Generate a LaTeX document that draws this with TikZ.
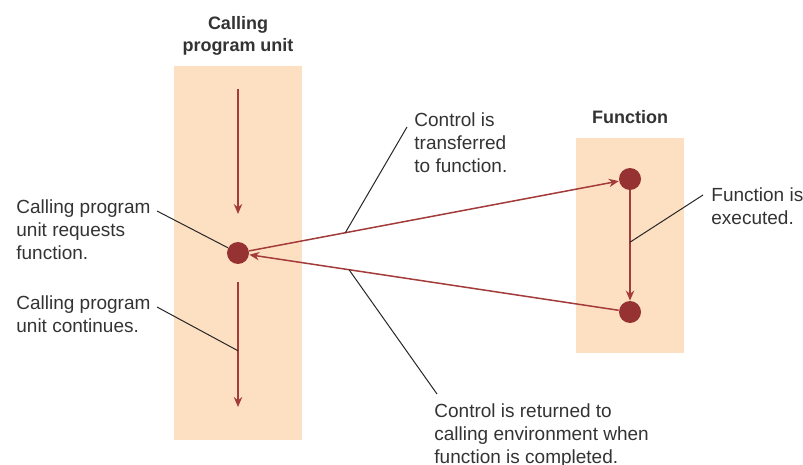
\documentclass[tikz,border=0pt]{standalone}
\usepackage{fontspec}
\setmainfont{Liberation Sans}
\usepackage{xcolor}
\usetikzlibrary{arrows.meta}
\definecolor{panelFill}{HTML}{FDE0C2}
\definecolor{dotRed}{HTML}{963232}
\definecolor{flowRed}{HTML}{A33B3B}
\definecolor{txtGray}{HTML}{333333}
\tikzset{
    ctrlDot/.style={circle, fill=dotRed, draw=none, inner sep=0pt, minimum size=11pt},
    flow/.style={-{Stealth[length=5pt, width=4.2pt]}, draw=flowRed, line width=0.75pt},
    leader/.style={draw=black!85, line width=0.5pt},
    note/.style={anchor=north west, inner sep=0pt, align=left, text=txtGray, font=\fontsize{9.5}{11.5}\selectfont},
    heading/.style={anchor=north, inner sep=0pt, align=center, text=txtGray, font=\fontsize{9}{11}\selectfont\bfseries}
}

\begin{document}
\begin{tikzpicture}[x=0.5pt, y=-0.5pt]
    \useasboundingbox (0,0) rectangle (803,465);
    % --- Calling program unit ---
    \fill[panelFill] (174,66) rectangle (302,440);
    \node[heading] (callTitle) at (238,16) {Calling\\program unit};
    \coordinate (inTop) at (238,89); \coordinate (inEnd) at (238,214);
    \draw[flow] (inTop) -- (inEnd);
    \node[ctrlDot] (req) at (238,253) {};
    \coordinate (outTop) at (238,282); \coordinate (outEnd) at (238,407);
    \draw[flow] (outTop) -- (outEnd) coordinate[pos=0.55] (contPt);
    % --- Function ---
    \fill[panelFill] (576,138) rectangle (684,353);
    \node[heading] (fnTitle) at (630,110) {Function};
    \node[ctrlDot] (fnIn) at (630,179) {};
    \node[ctrlDot] (fnOut) at (630,312) {};
    \draw[flow] (fnIn) -- (fnOut) coordinate[pos=0.47] (execPt);
    % --- transfer and return ---
    \draw[flow] (req) -- (fnIn) coordinate[pos=0.26] (xferPt);
    \draw[flow] (fnOut) -- (req) coordinate[pos=0.73] (retPt);
    % --- notes ---
    \node[note] (reqNote) at (16,199) {Calling program\\unit requests\\function.};
    \node[note] (contNote) at (16,295) {Calling program\\unit continues.};
    \node[note] (xferNote) at (414,112) {Control is\\transferred\\to function.};
    \node[note] (execNote) at (711,187) {Function is\\executed.};
    \node[note] (retNote) at (434,403) {Control is returned to\\calling environment when\\function is completed.};
    \coordinate (reqLead) at (157,211); \coordinate (contLead) at (157,307);
    \coordinate (xferLead) at (407,127); \coordinate (execLead) at (703,195);
    \coordinate (retLead) at (437,394);
    \draw[leader] (reqLead) -- (req);
    \draw[leader] (contLead) -- (contPt);
    \draw[leader] (xferLead) -- (xferPt);
    \draw[leader] (execLead) -- (execPt);
    \draw[leader] (retLead) -- (retPt);
\end{tikzpicture}
\end{document}
